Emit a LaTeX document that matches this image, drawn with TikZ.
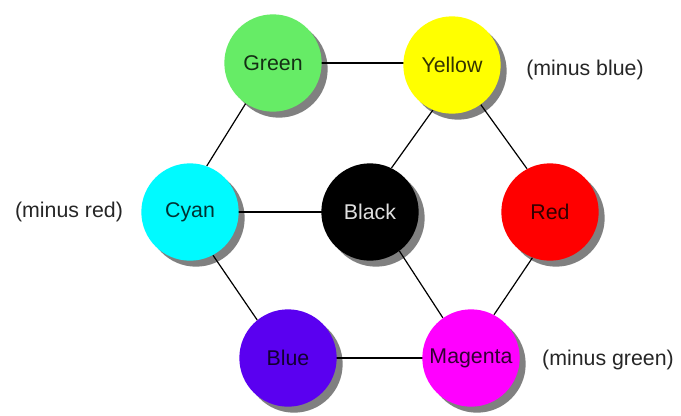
\documentclass[tikz,border=0pt]{standalone}
\usepackage{fontspec}
\setmainfont{Liberation Sans}
\pgfdeclarelayer{bglayer}
\pgfdeclarelayer{shadowlayer}
\pgfdeclarelayer{linelayer}
\pgfsetlayers{bglayer,shadowlayer,linelayer,main}
\definecolor{cgreen}{RGB}{102,236,102}
\definecolor{cyellow}{RGB}{255,255,0}
\definecolor{ccyan}{RGB}{0,250,255}
\definecolor{cblack}{RGB}{0,0,0}
\definecolor{cred}{RGB}{255,0,0}
\definecolor{cblue}{RGB}{90,0,240}
\definecolor{cmagenta}{RGB}{255,0,255}
\definecolor{shadowgray}{RGB}{128,128,128}
\tikzset{
  disc/.style={circle, inner sep=0pt, minimum size=73pt, fill=#1, text=#1!20!black, font=\fontsize{16}{18}\selectfont},
  note/.style={font=\fontsize{16}{18}\selectfont, text=black!85, inner sep=0pt},
  link/.style={draw=black, line width=0.9pt}
}
\begin{document}
\begin{tikzpicture}[x=0.75pt,y=-0.75pt]
\useasboundingbox (0,0) rectangle (681,415);
\node[disc=cgreen] (green) at (273,63) {Green};
\node[disc=cyellow] (yellow) at (452,65) {Yellow};
\node[disc=ccyan] (cyan) at (190,212) {Cyan};
\node[disc=cblack, text=black!12] (black) at (370,212) {Black};
\node[disc=cred] (red) at (550,212) {Red};
\node[disc=cblue] (blue) at (288,358) {Blue};
\node[disc=cmagenta] (magenta) at (471,358) {Magenta};
\node[note] (mblue) at (585,70) {(minus blue)};
\node[note] (mred) at (69,212) {(minus red)};
\node[note] (mgreen) at (608,360) {(minus green)};
\begin{pgfonlayer}{bglayer}
\fill[white] (0,0) rectangle (681,415);
\end{pgfonlayer}
\begin{pgfonlayer}{shadowlayer}
\foreach \n in {green,yellow,cyan,black,red,blue,magenta}
  \fill[shadowgray] ([shift={(6,6)}]\n.center) circle[radius=36.5pt];
\end{pgfonlayer}
\begin{pgfonlayer}{linelayer}
\draw[link] (green.center) -- (green.center -| yellow.center);
\draw[link] (green.236) -- (cyan.70);
\draw[link] (yellow.247) -- (black.64);
\draw[link] (yellow.306) -- (red.118);
\draw[link] (cyan.center) -- (black.center);
\draw[link] (cyan.298) -- (blue.129);
\draw[link] (black.307) -- (magenta.125);
\draw[link] (red.249) -- (magenta.62);
\draw[link] (blue.center) -- (magenta.center);
\end{pgfonlayer}
\end{tikzpicture}
\end{document}
